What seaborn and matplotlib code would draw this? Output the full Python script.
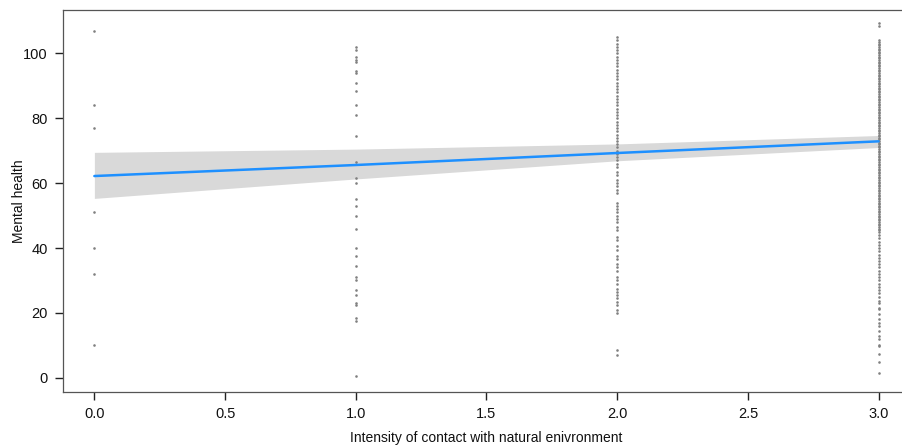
import numpy as np
import pandas as pd
import matplotlib
matplotlib.use("Agg")
import matplotlib.pyplot as plt
import seaborn as sns

# observed points, one list per contact level
y_level0 = [107, 84, 77, 51, 40, 32, 10]
y_level1 = [102, 101, 99, 98, 97.5, 94.5, 94, 91, 88.5, 84, 81, 74.5, 66.5, 61.5, 60,
            55, 53, 50, 46, 40, 37.5, 34.5, 31, 30, 27, 25.5, 23, 22.5, 18.5, 17.5, 0.5]
y_level2 = [105, 104, 103, 102, 101, 100, 99, 98, 97, 96, 95, 94, 93, 92, 91, 90, 89, 88,
            87, 86, 85, 84, 83, 82, 81, 80, 79, 78, 77, 76, 75, 74, 73, 72, 71, 70, 69,
            68, 67, 66, 65, 63.5, 62.5, 61, 60, 59, 58, 57, 54, 53, 52, 51, 50, 49, 48,
            46.5, 45.5, 43.5, 42.5, 40.5, 39.5, 37.5, 36.5, 35, 34, 33, 31, 30, 29, 27.5,
            26.5, 25.5, 24.5, 23.5, 22.5, 21, 20, 8.5, 7]
y_level3 = [109.5, 108.5,
            104, 103.5, 103, 102.5, 102, 101.5, 101, 100.5, 100, 99.5, 99, 98.5, 98, 97.5,
            97, 96.5, 96, 95.5, 95, 94.5, 94, 93.5, 93, 92.5, 92, 91.5, 91, 90.5, 90, 89.5,
            89, 88.5, 88, 87.5, 87, 86.5, 86, 85.5, 85, 84.5, 84, 83.5, 83, 82.5, 82, 81.5,
            81, 80.5, 80, 79.5, 79, 78.5, 78, 77.5, 77, 76.5, 76, 75.5, 75, 74.5, 74, 73.5,
            73, 72.5, 72, 71.5, 71, 70.5, 70, 69.5, 69, 68.5, 68, 67.5, 67, 66.5, 66, 65.5,
            65, 64.5, 64, 63.5, 63, 62.5, 62, 61.5, 61, 60.5, 60, 59.5, 59, 58.5, 58, 57.5,
            57, 56.5, 56, 55.5, 55, 54.5, 54, 53.5, 53, 52.5, 52, 51.5, 51, 50.5, 50, 49.5,
            49, 48.5, 48, 47.5, 47, 46.5, 46, 45.5, 45,
            44, 43, 42, 41, 40, 39, 38, 37, 36, 35, 34, 33, 32, 31, 30, 29, 28, 27, 26,
            24.8, 23.7, 22.9, 21.6, 21.1, 19.6, 18, 17, 15.9, 14.4, 12.8, 11.8, 10.2, 9.7,
            7.4, 4.9, 1.5]

# fitted line and 95% band
fit_x = [0, 1, 2, 3]
fit_y = [62.2, 65.6, 69.3, 72.9]
band_lo = [55.3, 61.3, 66.9, 71.0]
band_hi = [69.5, 70.5, 72.1, 74.7]

xticks = [0.0, 0.5, 1.0, 1.5, 2.0, 2.5, 3.0]
yticks = [0, 20, 40, 60, 80, 100]

pts = pd.concat([
    pd.DataFrame({"contact": lvl, "mh": vals})
    for lvl, vals in [(0, y_level0), (1, y_level1), (2, y_level2), (3, y_level3)]
])
fit = pd.DataFrame({"contact": fit_x, "mh": fit_y})

sns.set_theme(style="ticks")
plt.rcParams["font.family"] = ["Liberation Sans", "DejaVu Sans"]
plt.rcParams["xtick.major.size"] = 6
plt.rcParams["ytick.major.size"] = 6

fig = plt.figure(figsize=(9.03, 4.45), dpi=100)
ax = fig.add_axes([63 / 903, 53 / 445, 847 / 903, 382 / 445])

ax.fill_between(fit_x, band_lo, band_hi, color="#d9d9d9", lw=0, zorder=1)
sns.scatterplot(data=pts, x="contact", y="mh", ax=ax, color="#808080", marker="o",
                s=3.5, linewidth=0, zorder=2)
sns.lineplot(data=fit, x="contact", y="mh", ax=ax, color="#1e90ff", lw=1.8, zorder=3)

ax.set_xlim(-0.12, 3.12)
ax.set_ylim(-4.4, 113.4)
ax.set_xticks(xticks)
ax.set_xticklabels([f"{t:.1f}" for t in xticks])
ax.set_yticks(yticks)
ax.tick_params(axis="both", which="major", direction="out", length=6, width=1,
               color="#222222", labelcolor="#111111", labelsize=10.5, pad=5,
               bottom=True, left=True)
for sp in ax.spines.values():
    sp.set_visible(True)
    sp.set_color("#555555")
    sp.set_linewidth(0.9)

ax.set_xlabel("Intensity of contact with natural enivronment", fontsize=10,
              labelpad=7, color="#111111")
ax.set_ylabel("Mental health", fontsize=10, labelpad=-2, color="#111111")

fig.savefig("out.png", dpi=100)
